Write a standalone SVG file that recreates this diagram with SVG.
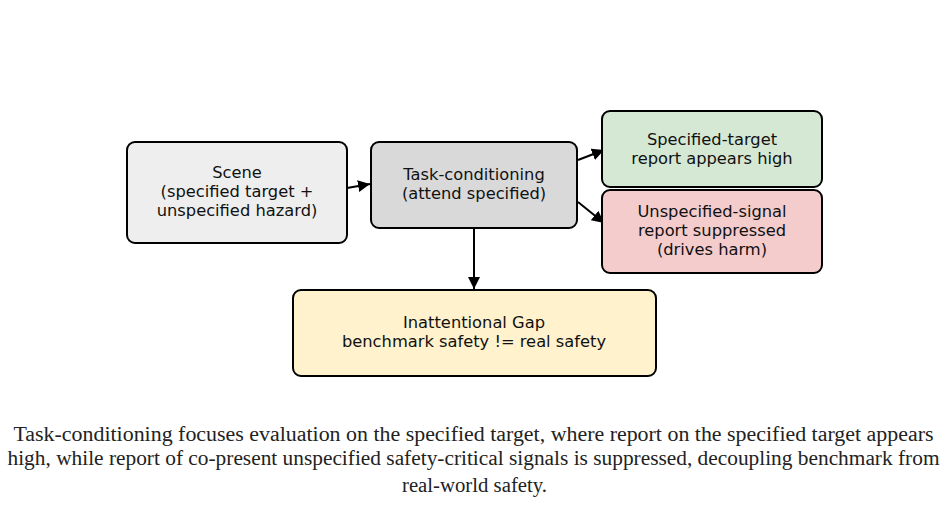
<svg xmlns="http://www.w3.org/2000/svg" width="947" height="505" viewBox="0 0 947 505">
<style>
.box{stroke:#000;stroke-width:2}
.lbl{font-family:"DejaVu Sans",sans-serif;font-size:16.3px;fill:#111;text-anchor:middle}
.cap{font-family:"Liberation Serif",serif;font-size:20px;fill:#222;text-anchor:middle}
.edge{stroke:#000;stroke-width:2;fill:none;marker-end:url(#ah)}
</style>
<defs>
<marker id="ah" viewBox="0 0 10 10" refX="10" refY="5" markerWidth="6" markerHeight="6" orient="auto" markerUnits="strokeWidth">
<path d="M0,0 L10,5 L0,10 z" fill="#000"/>
</marker>
</defs>
<rect width="947" height="505" fill="#fff"/>
<g id="connectors">
<line class="edge" x1="347" y1="188" x2="370" y2="184"/>
<line class="edge" x1="578" y1="160" x2="604" y2="150"/>
<line class="edge" x1="578" y1="202" x2="604" y2="223"/>
<line class="edge" x1="474" y1="228" x2="474" y2="289"/>
</g>
<g id="scene">
<rect class="box" x="127" y="142" width="220" height="101" rx="8" fill="#eeeeee"/>
<text class="lbl" x="237" y="178">Scene</text>
<text class="lbl" x="237" y="197">(specified target +</text>
<text class="lbl" x="237" y="216">unspecified hazard)</text>
</g>
<g id="task">
<rect class="box" x="371" y="142" width="206" height="86" rx="8" fill="#d9d9d9"/>
<text class="lbl" x="474" y="180">Task-conditioning</text>
<text class="lbl" x="474" y="199">(attend specified)</text>
</g>
<g id="specified">
<rect class="box" x="602" y="111" width="220" height="76" rx="8" fill="#d5e8d4"/>
<text class="lbl" x="712" y="145">Specified-target</text>
<text class="lbl" x="712" y="164">report appears high</text>
</g>
<g id="unspecified">
<rect class="box" x="602" y="190" width="220" height="83" rx="8" fill="#f4cccc"/>
<text class="lbl" x="712" y="217">Unspecified-signal</text>
<text class="lbl" x="712" y="236">report suppressed</text>
<text class="lbl" x="712" y="255">(drives harm)</text>
</g>
<g id="gap">
<rect class="box" x="293" y="290" width="363" height="86" rx="8" fill="#fff2cc"/>
<text class="lbl" x="474" y="328">Inattentional Gap</text>
<text class="lbl" x="474" y="347">benchmark safety != real safety</text>
</g>
<g id="caption">
<text class="cap" x="473.5" y="441" textLength="920" lengthAdjust="spacingAndGlyphs">Task-conditioning focuses evaluation on the specified target, where report on the specified target appears</text>
<text class="cap" x="473.5" y="465" textLength="932" lengthAdjust="spacingAndGlyphs">high, while report of co-present unspecified safety-critical signals is suppressed, decoupling benchmark from</text>
<text class="cap" x="474.5" y="492" textLength="145" lengthAdjust="spacingAndGlyphs">real-world safety.</text>
</g>
</svg>
